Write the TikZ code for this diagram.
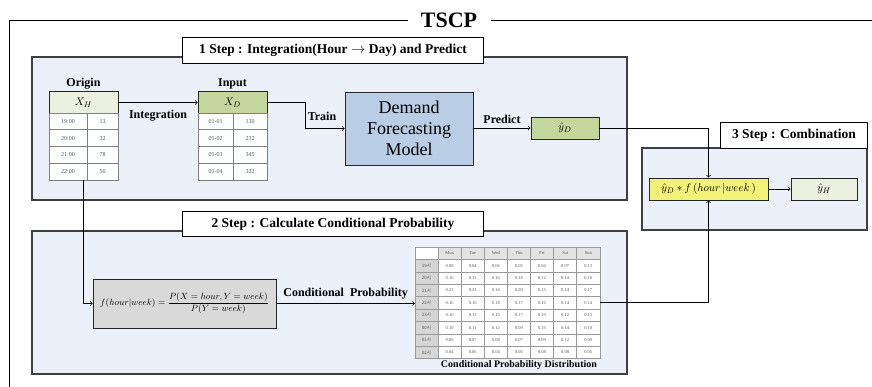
\documentclass[tikz,border=0pt]{standalone}
\usepackage{fontspec}
\setmainfont{Liberation Serif}
\newfontfamily\krfont{Noto Sans CJK KR}
\usetikzlibrary{positioning}

\definecolor{stepfill}{HTML}{ECF0F8}
\definecolor{stepline}{HTML}{404040}
\definecolor{originfill}{HTML}{EBF1DE}
\definecolor{inputfill}{HTML}{C3D69B}
\definecolor{modelfill}{HTML}{B9CDE5}
\definecolor{combfill}{HTML}{F2F279}
\definecolor{formfill}{HTML}{D9D9D9}
\definecolor{dayfill}{HTML}{E3E3E3}
\definecolor{hourfill}{HTML}{D6D6D6}
\definecolor{cellline}{HTML}{808080}
\definecolor{celltext}{HTML}{595959}

\tikzset{
  stepregion/.style={draw=stepline, line width=1.3pt, fill=stepfill},
  steptitle/.style={draw=black, line width=0.9pt, fill=white, inner sep=0pt, anchor=north west,
    font=\bfseries\fontsize{13.5}{16}\selectfont},
  boldlbl/.style={inner sep=1pt, font=\bfseries\fontsize{12}{14}\selectfont},
  flowbox/.style={draw=black!85, line width=0.9pt, inner sep=0pt, font=\fontsize{11}{13}\selectfont},
  datacell/.style={draw=cellline, line width=0.9pt, fill=white!92!stepfill, minimum height=16.75pt,
    inner sep=0pt, text=celltext, font=\fontsize{6}{7}\selectfont},
  probcell/.style={draw=cellline!80, line width=0.5pt, fill=white, minimum width=23.1pt,
    minimum height=12.4pt, inner sep=0pt, text=celltext, font=\fontsize{4.5}{5}\selectfont},
  flow/.style={->, line width=0.7pt}
}

\begin{document}
\begin{tikzpicture}[x=1pt, y=-1pt]
  \useasboundingbox (0,0) rectangle (872,387);

  % Outer frame
  \draw[line width=1pt] (9,387) -- (9,21) -- (872,21);
  \node[fill=white, minimum width=83pt, inner sep=0pt, font=\bfseries\fontsize{22}{24}\selectfont]
    (tscp) at (449,20) {TSCP};

  % Step regions
  \draw[stepregion] (32,57) rectangle (627,200);
  \draw[stepregion] (32,231) rectangle (627,374);
  \draw[stepregion] (642,148) rectangle (867,230);
  \node[steptitle, minimum width=301pt, minimum height=26pt] (step1) at (182,37)
    {1 Step : Integration(Hour $\rightarrow$ Day) and Predict};
  \node[steptitle, minimum width=301pt, minimum height=25pt] (step2) at (182,211)
    {2 Step : Calculate Conditional Probability};
  \node[steptitle, minimum width=147pt, minimum height=26pt] (step3) at (720,122)
    {3 Step : Combination};

  % Origin table
  \node[flowbox, fill=originfill, minimum width=69pt, minimum height=22pt] (xh) at (83.5,102.5) {$X_H$};
  \node[boldlbl, above=1pt of xh] (originlbl) {Origin};
  \foreach \t/\v [count=\i] in {19:00/13,20:00/32,21:00/78,22:00/56} {
    \node[datacell, minimum width=38pt] (ot\i) at (68,{113+16.75*(\i-0.5)}) {\t};
    \node[datacell, minimum width=31pt] (ov\i) at (102.5,{113+16.75*(\i-0.5)}) {\v};
  }

  % Input table
  \node[flowbox, fill=inputfill, minimum width=69pt, minimum height=22pt] (xd) at (232.5,102.5) {$X_D$};
  \node[boldlbl, above=1pt of xd] (inputlbl) {Input};
  \foreach \t/\v [count=\i] in {01-01/130,01-02/232,01-03/345,01-04/322} {
    \node[datacell, minimum width=35pt] (it\i) at (215.5,{113+16.75*(\i-0.5)}) {\t};
    \node[datacell, minimum width=34pt] (iv\i) at (250,{113+16.75*(\i-0.5)}) {\v};
  }

  % Model and prediction
  \node[flowbox, fill=modelfill, minimum width=128pt, minimum height=73pt, align=center,
    font=\fontsize{18}{21}\selectfont] (model) at (409,128.5) {Demand\\Forecasting\\Model};
  \node[flowbox, fill=inputfill, minimum width=68pt, minimum height=22pt] (yd) at (565,128) {$\hat{y}_D$};

  % Combination
  \node[flowbox, fill=combfill, minimum width=119pt, minimum height=22pt] (comb) at (708.5,189)
    {$\hat{y}_D * f\,(hour\,|week\,)$};
  \node[flowbox, fill=originfill, minimum width=66pt, minimum height=22pt] (yh) at (824,189) {$\hat{y}_H$};

  % Conditional probability formula
  \node[flowbox, fill=formfill, minimum width=183pt, minimum height=49pt, font=\fontsize{9.2}{11}\selectfont]
    (formula) at (184.5,303.5)
    {$\displaystyle f(hour|week)=\frac{P(X=hour,Y=week)}{P(Y=week)}$};

  % Conditional probability table
  \node[probcell] (corner) at (426.55,253.2) {};
  \foreach \d [count=\c] in {Mon,Tue,Wed,Thu,Fri,Sat,Sun}
    \node[probcell, fill=dayfill] (day\c) at ({426.55+23.1*\c},253.2) {\d};
  \foreach \h/\vals [count=\r] in {
      19/{0.08,0.04,0.06,0.05,0.04,0.07,0.13},
      20/{0.16,0.15,0.16,0.16,0.12,0.14,0.16},
      21/{0.21,0.21,0.16,0.20,0.15,0.14,0.17},
      22/{0.16,0.16,0.18,0.17,0.16,0.14,0.14},
      23/{0.16,0.15,0.15,0.17,0.19,0.12,0.13},
      00/{0.10,0.11,0.12,0.09,0.15,0.14,0.10},
      01/{0.06,0.07,0.08,0.07,0.09,0.12,0.09},
      02/{0.04,0.06,0.04,0.05,0.08,0.08,0.05}} {
    \node[probcell, fill=hourfill] (hr\r) at (426.55,{253.2+12.4*\r}) {\krfont\h{}시};
    \foreach \v [count=\c] in \vals
      \node[probcell] (p\r-\c) at ({426.55+23.1*\c},{253.2+12.4*\r}) {\v};
  }
  \node[inner sep=1pt, below=1pt of p8-4, font=\bfseries\fontsize{10}{12}\selectfont] (tbllbl)
    {Conditional Probability Distribution};

  % Connectors
  \draw[flow] (xh.east) -- node[boldlbl, below=6pt] {Integration} (xd.west);
  \draw[flow] (xd.east) -- ++(38,0) |- (model.west);
  \node[boldlbl] (trainlbl) at (322,116) {Train};
  \draw[flow] (model.east |- yd.west) -- node[boldlbl, above=3pt] {Predict} (yd.west);
  \draw[flow] (yd.east) -| (comb.north);
  \draw[flow] (comb.east) -- (yh.west);
  \draw[flow] (xh.south |- ot4.south) |- (formula.west);
  \draw[flow] (formula.east) -- node[boldlbl, above=3pt] {Conditional\ \ Probability} (formula.east -| hr4.west);
  \draw[flow] (p4-7.east) -| (comb.south);

\end{tikzpicture}
\end{document}
